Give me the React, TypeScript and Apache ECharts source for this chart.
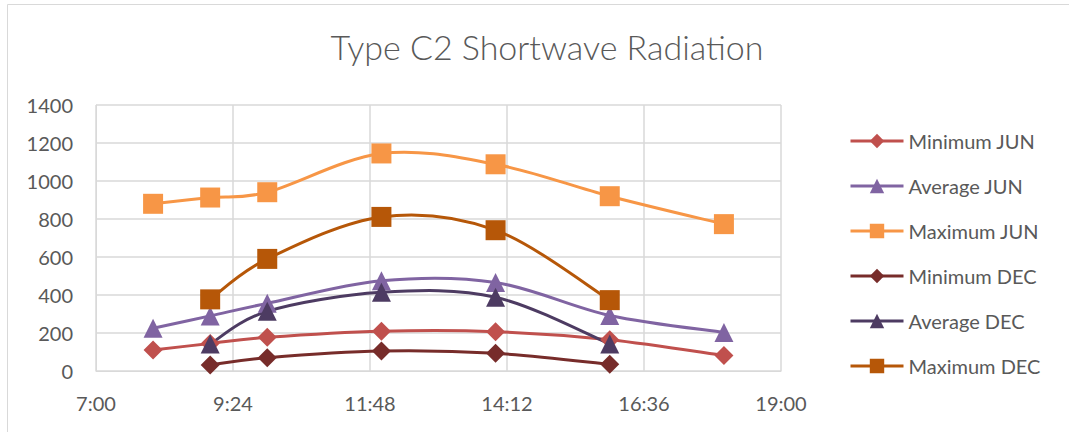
import React, { useEffect, useRef } from "react";
import * as echarts from "echarts";

const timesJun = ["8:00", "9:00", "10:00", "12:00", "14:00", "16:00", "18:00"];
const timesDec = ["9:00", "10:00", "12:00", "14:00", "16:00"];

const minJun = [110, 145, 177, 209, 207, 165, 82];
const avgJun = [225, 290, 356, 475, 466, 292, 203];
const maxJun = [880, 913, 941, 1145, 1088, 920, 773];
const minDec = [32, 70, 105, 93, 35];
const avgDec = [142, 314, 414, 388, 142];
const maxDec = [377, 590, 811, 741, 373];

const seriesNames = ["Minimum JUN", "Average JUN", "Maximum JUN", "Minimum DEC", "Average DEC", "Maximum DEC"];
const seriesColors = ["#C0504D", "#8064A2", "#F79646", "#772C2A", "#4D3B62", "#B65708"];
const yTicks = [0, 200, 400, 600, 800, 1000, 1200, 1400];

const AXIS_START_MIN = 7 * 60; // 7:00
const AXIS_SPAN_MIN = 12 * 60; // to 19:00
const AXIS_STEP_MIN = 144; // 2:24

const toOffset = (t: string) => {
  const [h, m] = t.split(":").map(Number);
  return h * 60 + m - AXIS_START_MIN;
};
const fmt = (v: number) => {
  const m = Math.round(v + AXIS_START_MIN);
  const h = Math.floor(m / 60);
  const mm = m % 60;
  return `${h}:${mm < 10 ? "0" + mm : mm}`;
};

const FONT = "Lato, 'Open Sans', sans-serif";
const TXT = "#595959";

// Excel-like smoothed curve (cardinal spline through the points)
const splinePath = (pts: number[][]) => {
  if (pts.length < 2) return "";
  let d = `M${pts[0][0]},${pts[0][1]}`;
  for (let i = 0; i < pts.length - 1; i++) {
    const p0 = pts[i - 1] || pts[i];
    const p1 = pts[i];
    const p2 = pts[i + 1];
    const p3 = pts[i + 2] || p2;
    const c1x = p1[0] + (p2[0] - p0[0]) / 6;
    const c1y = p1[1] + (p2[1] - p0[1]) / 6;
    const c2x = p2[0] - (p3[0] - p1[0]) / 6;
    const c2y = p2[1] - (p3[1] - p1[1]) / 6;
    d += ` C${c1x},${c1y} ${c2x},${c2y} ${p2[0]},${p2[1]}`;
  }
  return d;
};

export default function App() {
  const ref = useRef<HTMLDivElement>(null);
  useEffect(() => {
    if (!ref.current) return;
    const chart = echarts.init(ref.current, null, { renderer: "svg" });
    const defs = [
      { times: timesJun, vals: minJun, symbol: "diamond", size: 19 },
      { times: timesJun, vals: avgJun, symbol: "triangle", size: 19 },
      { times: timesJun, vals: maxJun, symbol: "rect", size: 20 },
      { times: timesDec, vals: minDec, symbol: "diamond", size: 19 },
      { times: timesDec, vals: avgDec, symbol: "triangle", size: 19 },
      { times: timesDec, vals: maxDec, symbol: "rect", size: 20 },
    ];
    const series: any[] = [];
    defs.forEach((d, k) => {
      const color = seriesColors[k];
      const data = d.times.map((t, i) => [toOffset(t), d.vals[i]]);
      series.push({
        name: seriesNames[k] + " curve",
        type: "custom",
        coordinateSystem: "cartesian2d",
        silent: true,
        data,
        encode: { x: 0, y: 1 },
        renderItem: (params: any, api: any) => {
          if (params.dataIndex !== 0) return null;
          const pts = data.map((p) => api.coord(p));
          return {
            type: "path",
            shape: { pathData: splinePath(pts) },
            style: { fill: "none", stroke: color, lineWidth: 3 },
          };
        },
      });
      series.push({
        name: seriesNames[k],
        type: "line",
        data,
        symbol: d.symbol,
        symbolSize: d.size,
        showAllSymbol: true,
        lineStyle: { color, width: 3, opacity: 0 },
        itemStyle: { color, borderWidth: 0 },
      });
    });
    chart.setOption({
      animation: false,
      backgroundColor: "#ffffff",
      title: {
        text: "Type C2 Shortwave Radiation",
        left: 542,
        textAlign: "center",
        top: 24,
        textStyle: { fontFamily: FONT, fontWeight: 300, fontSize: 34, color: TXT },
      },
      graphic: [
        {
          type: "rect",
          shape: { x: 7.5, y: 4.5, width: 1100, height: 500 },
          style: { fill: "none", stroke: "#D9D9D9", lineWidth: 1 },
          silent: true,
        },
      ],
      grid: { left: 96, right: 288, top: 105, bottom: 61, containLabel: false },
      legend: {
        orient: "vertical",
        left: 849,
        top: 130,
        padding: 0,
        itemWidth: 53,
        itemHeight: 18,
        itemGap: 23,
        data: seriesNames.map((n, k) => ({
          name: n,
          lineStyle: { color: seriesColors[k], width: 3, opacity: 1 },
        })),
        textStyle: { fontFamily: FONT, fontSize: 20, color: TXT, lineHeight: 22 },
      },
      xAxis: {
        type: "value",
        min: 0,
        max: AXIS_SPAN_MIN,
        interval: AXIS_STEP_MIN,
        axisLine: { show: true, lineStyle: { color: "#D9D9D9", width: 1 } },
        axisTick: { show: false },
        splitLine: { show: true, lineStyle: { color: "#D9D9D9", width: 1.5 } },
        axisLabel: { formatter: (v: number) => fmt(v), color: TXT, fontFamily: FONT, fontSize: 20, margin: 22 },
      },
      yAxis: {
        type: "value",
        min: yTicks[0],
        max: yTicks[yTicks.length - 1],
        interval: yTicks[1] - yTicks[0],
        axisLine: { show: true, lineStyle: { color: "#D9D9D9", width: 1 } },
        axisTick: { show: false },
        splitLine: { show: true, lineStyle: { color: "#D9D9D9", width: 1.5 } },
        axisLabel: { formatter: (v: number) => String(v), color: TXT, fontFamily: FONT, fontSize: 20, margin: 23 },
      },
      series,
    });
    return () => chart.dispose();
  }, []);
  return <div ref={ref} style={{ position: "fixed", left: 0, top: 0, width: 1069, height: 432 }} />;
}
